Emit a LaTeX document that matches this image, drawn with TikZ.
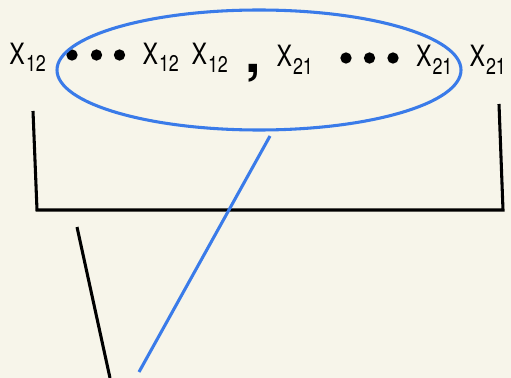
\documentclass[tikz,border=0pt]{standalone}
\usepackage{fontspec}
\setmainfont{TeX Gyre Heros}
\newfontfamily\narrowfont[FakeStretch=0.79]{TeX Gyre Heros}
\definecolor{bg}{RGB}{247,245,234}
\definecolor{lineblue}{RGB}{58,123,233}
\newcommand{\xsub}[1]{{\narrowfont\fontsize{22}{22}\selectfont X}\kern0.8pt\raisebox{-5.5pt}{\narrowfont\fontsize{17}{17}\selectfont #1}}
\tikzset{
  term/.style={anchor=base west, inner sep=0pt, outer sep=0pt},
  bigdot/.style={circle, fill=black, inner sep=0pt, minimum size=8.5pt},
  blk/.style={draw=black, line width=2.3pt},
  blu/.style={draw=lineblue, line width=2.3pt}
}
\begin{document}
\begin{tikzpicture}[x=0.75pt,y=-0.75pt]
\fill[bg] (0,0) rectangle (511,378);
\useasboundingbox (0,0) rectangle (511,378);
% terms
\node[term] (t1) at (9.5,64.3) {\xsub{12}};
\node[bigdot] (d1) at (72,55) {};
\node[bigdot] (d2) at (96.5,55) {};
\node[bigdot] (d3) at (119.5,55) {};
\node[term] (t2) at (142.5,64.5) {\xsub{12}};
\node[term] (t3) at (191.5,64.8) {\xsub{12}};
\node[term] (cm) at (245,73) {\fontsize{42}{42}\selectfont\bfseries ,};
\node[term] (t4) at (276.5,67) {\xsub{21}};
\node[bigdot] (d4) at (346,58) {};
\node[bigdot] (d5) at (369.5,58) {};
\node[bigdot] (d6) at (393,58) {};
\node[term] (t5) at (416,66.7) {\xsub{21}};
\node[term] (t6) at (469.5,66.7) {\xsub{21}};
% ellipse
\coordinate (elc) at (259,70);
\draw[blu] (elc) ellipse [x radius=151.5pt, y radius=45pt];
% bracket
\coordinate (bl) at (33,111);
\coordinate (bbl) at (37,210);
\coordinate (bbr) at (503,210);
\coordinate (br) at (499,104);
\draw[blk, line join=miter] (bl) -- (bbl) -- (bbr) -- (br);
% lines below
\coordinate (k1) at (77,227);
\coordinate (k2) at (110,378);
\draw[blk] (k1) -- (k2);
\coordinate (b1) at (270,136);
\coordinate (b2) at (139,372);
\draw[blu] (b1) -- (b2);
\end{tikzpicture}
\end{document}
